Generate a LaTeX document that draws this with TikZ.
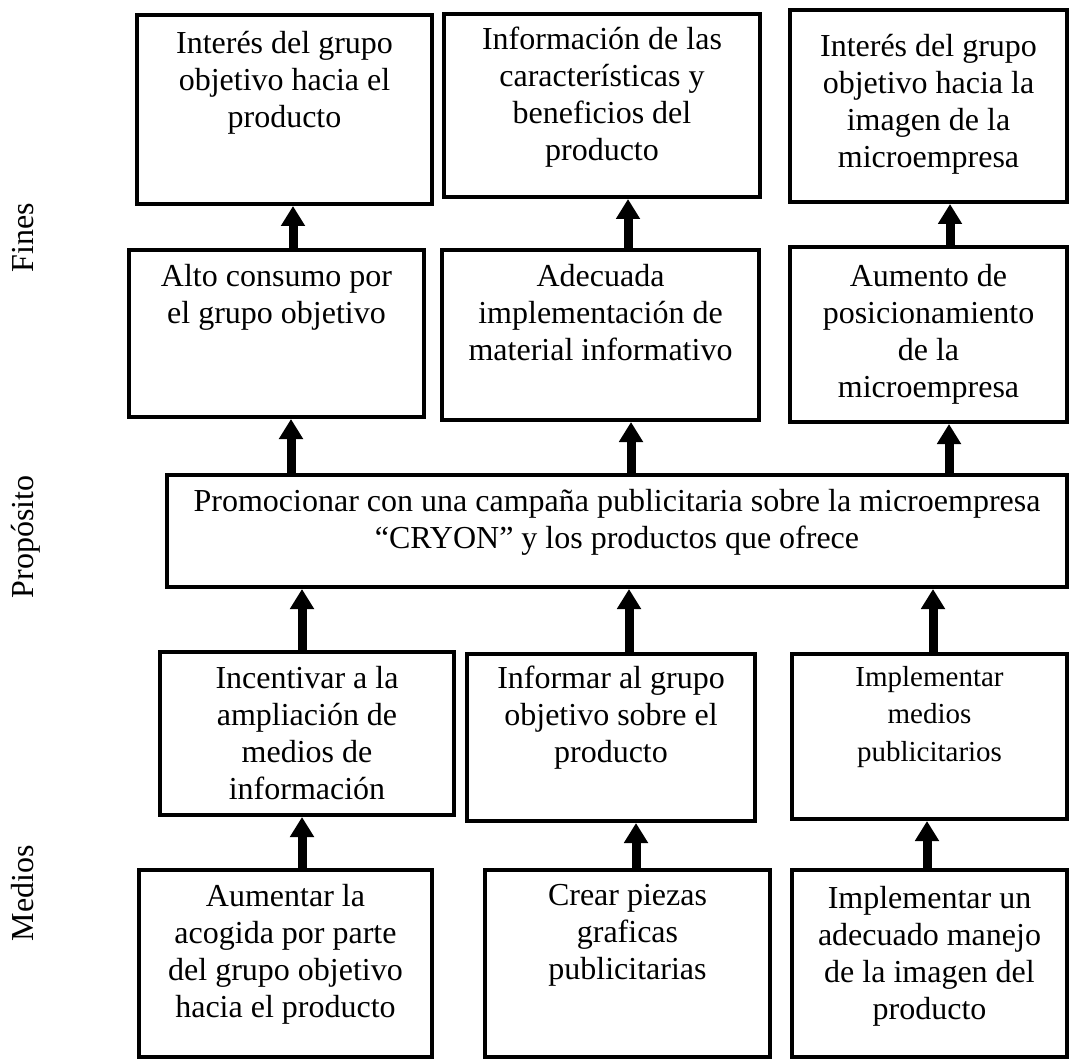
\documentclass[tikz,border=0pt]{standalone}
\usepackage{fontspec}
\setmainfont{Liberation Serif}
\usetikzlibrary{arrows.meta}

\tikzset{
  caja/.style={draw, line width=4pt, anchor=north west, inner sep=0pt},
  texto/.style={align=center, inner sep=0pt, anchor=north, execute at begin node=\strut,
    font=\fontsize{32}{37}\selectfont},
  flecha/.style={line width=9pt, -{Triangle[width=23pt,length=20pt]}},
  eje/.style={rotate=90, anchor=base, inner sep=0pt, font=\fontsize{32}{37}\selectfont}
}

\begin{document}
\begin{tikzpicture}[x=1pt,y=1pt,yscale=-1]
\useasboundingbox (0,0) rectangle (1070,1059);

% Fines (fila superior)
\node[caja, minimum width=295pt, minimum height=189pt] (f1) at (135,13) {};
\node[caja, minimum width=316pt, minimum height=183pt] (f2) at (442,12) {};
\node[caja, minimum width=277pt, minimum height=192pt] (f3) at (788,8) {};
% Fines (fila inferior)
\node[caja, minimum width=295pt, minimum height=167pt] (f4) at (127,248) {};
\node[caja, minimum width=317pt, minimum height=170pt] (f5) at (440,248) {};
\node[caja, minimum width=277pt, minimum height=175pt] (f6) at (788,245) {};
% Proposito
\node[caja, minimum width=900pt, minimum height=112pt] (p) at (165,473) {};
% Medios
\node[caja, minimum width=294pt, minimum height=163pt] (m1) at (158,650) {};
\node[caja, minimum width=288pt, minimum height=167pt] (m2) at (465,652) {};
\node[caja, minimum width=275pt, minimum height=165pt] (m3) at (790,652) {};
\node[caja, minimum width=293pt, minimum height=187pt] (m4) at (137,868) {};
\node[caja, minimum width=285pt, minimum height=187pt] (m5) at (483,868) {};
\node[caja, minimum width=275pt, minimum height=187pt] (m6) at (790,868) {};

% textos
\node[texto] (tf1) at ([yshift=18pt]f1.north) {Interés del grupo\\objetivo hacia el\\producto};
\node[texto] (tf2) at ([yshift=15pt]f2.north) {Información de las\\características y\\beneficios del\\producto};
\node[texto] (tf3) at ([yshift=26pt]f3.north) {Interés del grupo\\objetivo hacia la\\imagen de la\\microempresa};
\node[texto] (tf4) at ([yshift=16pt]f4.north) {Alto consumo por\\el grupo objetivo};
\node[texto] (tf5) at ([yshift=16pt]f5.north) {Adecuada\\implementación de\\material informativo};
\node[texto] (tf6) at ([yshift=19pt]f6.north) {Aumento de\\posicionamiento\\de la\\microempresa};
\node[texto] (tp) at ([yshift=16pt]p.north) {Promocionar con una campaña publicitaria sobre la microempresa\\“CRYON” y los productos que ofrece};
\node[texto] (tm1) at ([yshift=16pt]m1.north) {Incentivar a la\\ampliación de\\medios de\\información};
\node[texto] (tm2) at ([yshift=14pt]m2.north) {Informar al grupo\\objetivo sobre el\\producto};
\node[texto, font=\fontsize{29}{37.5}\selectfont] (tm3) at ([yshift=14pt]m3.north) {Implementar\\medios\\publicitarios};
\node[texto] (tm4) at ([yshift=16pt]m4.north) {Aumentar la\\acogida por parte\\del grupo objetivo\\hacia el producto};
\node[texto] (tm5) at ([yshift=16pt]m5.north) {Crear piezas\\graficas\\publicitarias};
\node[texto] (tm6) at ([yshift=18pt]m6.north) {Implementar un\\adecuado manejo\\de la imagen del\\producto};

% flechas
\draw[flecha] (f4.north -| 293,0) -- (f1.south -| 293,0);
\draw[flecha] (f5.north -| 628,0) -- (f2.south -| 628,0);
\draw[flecha] (f6.north -| 950,0) -- (f3.south -| 950,0);
\draw[flecha] (p.north -| 291,0) -- (f4.south -| 291,0);
\draw[flecha] (p.north -| 631,0) -- (f5.south -| 631,0);
\draw[flecha] (p.north -| 949,0) -- (f6.south -| 949,0);
\draw[flecha] (m1.north -| 302,0) -- (p.south -| 302,0);
\draw[flecha] (m2.north -| 629,0) -- (p.south -| 629,0);
\draw[flecha] (m3.north -| 933,0) -- (p.south -| 933,0);
\draw[flecha] (m4.north -| 302,0) -- (m1.south -| 302,0);
\draw[flecha] (m5.north -| 636,0) -- (m2.south -| 636,0);
\draw[flecha] (m6.north -| 927,0) -- (m3.south -| 927,0);

% etiquetas laterales
\node[eje] (efines) at (33,238) {Fines};
\node[eje] (eprop) at (33,537) {Propósito};
\node[eje] (emedios) at (33,893) {Medios};
\end{tikzpicture}
\end{document}
